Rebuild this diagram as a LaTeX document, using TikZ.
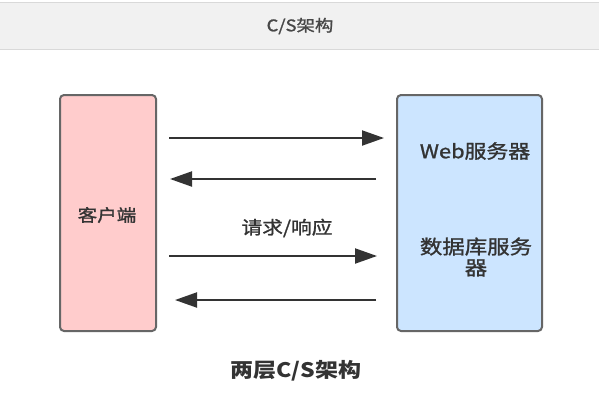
\documentclass[tikz,border=0pt]{standalone}
\usepackage{fontspec}
\setmainfont{Noto Sans CJK SC}[FakeStretch=1.15]
\newfontfamily\midfont{Noto Sans CJK SC}[FakeStretch=1.15, FakeBold=1.3]
\usetikzlibrary{arrows.meta}
\definecolor{txt}{HTML}{333333}
\definecolor{hdrfill}{HTML}{F1F1F1}
\definecolor{hdrline}{HTML}{D9D9D9}
\definecolor{pinkfill}{HTML}{FFCCCC}
\definecolor{bluefill}{HTML}{CCE5FF}
\definecolor{boxline}{HTML}{666666}
\tikzset{
  tierbox/.style={draw=boxline, line width=2pt, rounded corners=4pt, inner sep=0pt},
  lbl/.style={text=txt, font=\midfont\fontsize{17}{20}\selectfont, inner sep=0pt, align=center},
  arr/.style={draw=txt, line width=2pt, -{Triangle[length=22pt,width=15pt]}},
}
\begin{document}
\begin{tikzpicture}[x=1pt,y=-1pt]
\useasboundingbox (0,0) rectangle (599,416);
\fill[white] (0,0) rectangle (599,416);
% header band
\fill[hdrfill] (0,2) rectangle (599,49);
\draw[hdrline, line width=1pt] (0,2) -- (599,2) (0,49) -- (599,49);
\node[lbl, text=txt!90, font=\midfont\fontsize{16}{19}\selectfont] (title) at (300,26) {C/S架构};
% boxes
\node[tierbox, fill=pinkfill, minimum width=96pt, minimum height=236pt] (client) at (108,213) {};
\node[tierbox, fill=bluefill, minimum width=145pt, minimum height=236pt] (server) at (469.5,213) {};
% box labels
\node[lbl] (clientlbl) at (107,215) {客户端};
\node[lbl, font=\midfont\fontsize{19}{22}\selectfont] (weblbl) at (475,151) {Web服务器};
\node[lbl, font=\midfont\fontsize{19.5}{21}\selectfont] (dblbl) at (476,257) {数据库服务\\器};
% arrows
\draw[arr, shorten <=12pt, shorten >=12pt] (client.east |- {(0,138)}) -- (server.west |- {(0,138)});
\draw[arr, shorten <=20pt, shorten >=13pt] (server.west |- {(0,179)}) -- (client.east |- {(0,179)});
\draw[arr, shorten <=12pt, shorten >=19pt] (client.east |- {(0,256)}) -- (server.west |- {(0,256)});
\draw[arr, shorten <=20pt, shorten >=18pt] (server.west |- {(0,300)}) -- (client.east |- {(0,300)});
\node[lbl, font=\midfont\fontsize{18}{21}\selectfont] (reqlbl) at (287,228) {请求/响应};
% caption
\node[lbl, font=\bfseries\fontsize{20}{24}\selectfont] (caption) at (296,371) {两层C/S架构};
\end{tikzpicture}
\end{document}
